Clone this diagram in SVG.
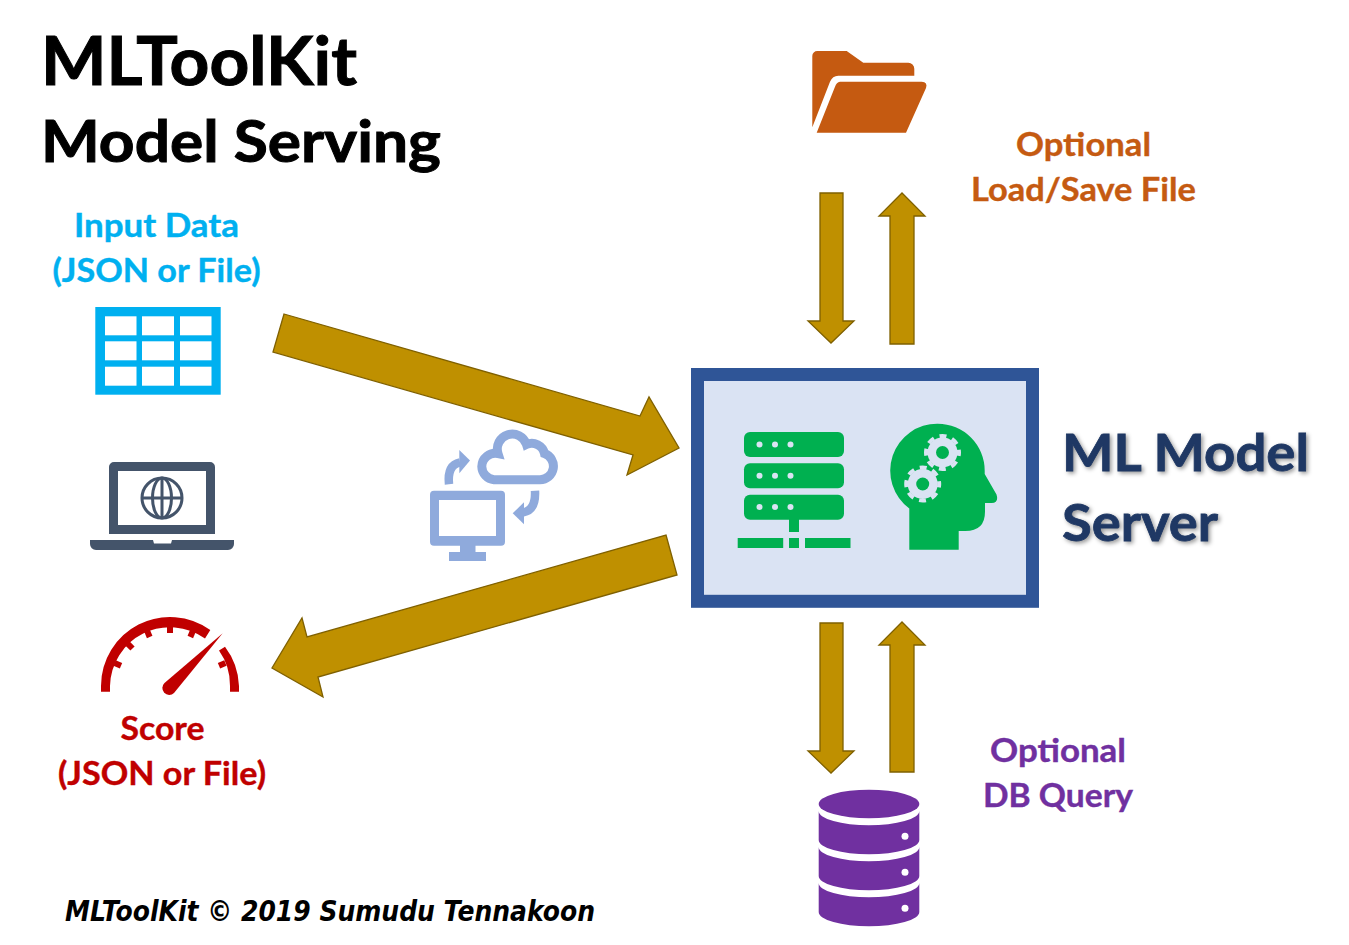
<svg xmlns="http://www.w3.org/2000/svg" width="1349" height="945" viewBox="0 0 1349 945">
<style>
text{font-family:"Lato","Open Sans","Liberation Sans",sans-serif;font-weight:700}
.title{fill:#000;stroke:#000;stroke-width:1}
.lab{font-size:33px;text-anchor:middle;stroke-width:.4}
.srv{font-size:52px;fill:#1f3864;stroke:#1f3864;stroke-width:.8;filter:drop-shadow(2px 2px 2px rgba(0,0,0,.4))}
.foot{font-family:"DejaVu Sans",sans-serif;font-style:italic;font-size:28px;fill:#000}
.arr{fill:#bf9000;stroke:#7f6000;stroke-width:1.3;stroke-linejoin:miter}
.g{fill:#00b050}
.gb{fill:#dae3f3}
.nav{fill:#44546a}
.blue{fill:#8faadc}
.red{fill:#c00000}
.pur{fill:#7030a0}
</style>
<defs>
<g id="gear">
<circle r="15" class="gb"/>
<circle r="16.500" fill="none" stroke="#dae3f3" stroke-width="4" stroke-dasharray="7 5.960" stroke-dashoffset="3.500"/>
<circle r="6.500" class="g"/>
</g>
</defs>
<rect width="1349" height="945" fill="#fff"/>

<g id="connectors">
<polygon class="arr" points="284,314 640,416 649,397 679,448 627,475 633,455 273,352"/>
<polygon class="arr" points="666,535 677,575 318,677 323,697 272,668 302,618 307,637"/>
<polygon class="arr" points="820,193 843,193 843,321 854,321 831,343 808,321 820,321"/>
<polygon class="arr" points="890,344 914,344 914,216 925,216 902,193 879,216 890,216"/>
<polygon class="arr" points="820,623 843,623 843,751 854,751 831,773 808,751 820,751"/>
<polygon class="arr" points="890,772 914,772 914,645 925,645 902,622 879,645 890,645"/>
</g>

<g id="title">
<text class="title" x="41" y="85" font-size="66" textLength="316" lengthAdjust="spacingAndGlyphs">MLToolKit</text>
<text class="title" x="41" y="162" font-size="58" textLength="400" lengthAdjust="spacingAndGlyphs">Model Serving</text>
</g>

<g id="input-data">
<text class="lab" x="156.500" y="237" fill="#00b0f0" stroke="#00b0f0" textLength="165" lengthAdjust="spacingAndGlyphs">Input Data</text>
<text class="lab" x="156.500" y="282" fill="#00b0f0" stroke="#00b0f0" textLength="208" lengthAdjust="spacingAndGlyphs">(JSON or File)</text>
<rect x="95.300" y="307" width="125.400" height="87.700" fill="#00b0f0"/>
<g fill="#fff">
<rect x="105" y="316.300" width="31.500" height="19"/><rect x="142" y="316.300" width="32" height="19"/><rect x="180" y="316.300" width="31.500" height="19"/>
<rect x="105" y="341.300" width="31.500" height="19"/><rect x="142" y="341.300" width="32" height="19"/><rect x="180" y="341.300" width="31.500" height="19"/>
<rect x="105" y="366.700" width="31.500" height="19"/><rect x="142" y="366.700" width="32" height="19"/><rect x="180" y="366.700" width="31.500" height="19"/>
</g>
</g>

<g id="laptop">
<path class="nav" fill-rule="evenodd" d="M109 534V467a5 5 0 0 1 5-5H210a5 5 0 0 1 5 5V534ZM118 471V525H206V471Z"/>
<path class="nav" d="M90 540H153L154 543.500H171L172 540H234V544a6 6 0 0 1-6 6H96a6 6 0 0 1-6-6Z"/>
<g fill="none" stroke="#44546a" stroke-width="3">
<circle cx="162" cy="498" r="20"/>
<ellipse cx="162" cy="498" rx="9.500" ry="20"/>
<path d="M162 478V518M142 498H182"/>
</g>
</g>

<g id="sync">
<path class="blue" fill-rule="evenodd" d="M434 490.700H501a4 4 0 0 1 4 4V541.700a4 4 0 0 1-4 4H475.500V552H486V561H449V552H460V545.700H434a4 4 0 0 1-4-4V494.700a4 4 0 0 1 4-4ZM439 500V536H496V500Z"/>
<path d="M494 479.700H540A13.500 13.500 0 0 0 544.500 453.500A13 13 0 0 0 526.500 444.500A14.500 14.500 0 0 0 498 453.500A13.500 13.500 0 0 0 481.800 466.500A13.500 13.500 0 0 0 494 479.700Z" fill="none" stroke="#8faadc" stroke-width="9"/>
<path d="M449 484.300Q447 465 460 462.300" fill="none" stroke="#8faadc" stroke-width="8.500"/>
<polygon class="blue" points="459.300,450 470,460.500 459.300,473.300"/>
<path d="M535 490.700Q536 510 523.300 512.300" fill="none" stroke="#8faadc" stroke-width="8.500"/>
<polygon class="blue" points="524,502.300 512.700,513.300 524,524.300"/>
</g>

<g id="score">
<path class="red" d="M101 691.700V686A69 69 0 0 1 210.300 630L205 638.500 A60 60 0 0 0 110 686V691.700Z"/>
<path class="red" d="M225 646.700A69 69 0 0 1 239 686V691.700H230V686A60 60 0 0 0 219 650.500Z"/>
<g stroke="#c00000" stroke-width="6" fill="none">
<path d="M170 626V633"/>
<path d="M147 630.600L149.700 637"/>
<path d="M193 630.600L190.300 637"/>
<path d="M127.600 643.600L132.500 648.500"/>
<path d="M114.600 663L121 665.700"/>
<path d="M225.400 663L219 665.700"/>
</g>
<path class="red" d="M222.700 633.300L174 693A6.500 6.500 0 0 1 164.500 683Z"/>
<text class="lab" x="162.500" y="740" fill="#c00000" stroke="#c00000" textLength="84" lengthAdjust="spacingAndGlyphs">Score</text>
<text class="lab" x="162" y="785" fill="#c00000" stroke="#c00000" textLength="208" lengthAdjust="spacingAndGlyphs">(JSON or File)</text>
</g>

<g id="ml-model-server">
<rect x="697.500" y="374.500" width="335" height="226.800" class="gb" stroke="#2f5597" stroke-width="13"/>
<g class="g">
<rect x="744" y="432" width="100" height="25" rx="6"/>
<rect x="744" y="463.300" width="100" height="25" rx="6"/>
<rect x="744" y="494.700" width="100" height="25" rx="6"/>
<rect x="789" y="519" width="10" height="13"/>
<rect x="737.700" y="538" width="45.500" height="10"/>
<rect x="789" y="538" width="10" height="10"/>
<rect x="805" y="538" width="45.500" height="10"/>
</g>
<g class="gb">
<circle cx="759.500" cy="444.500" r="3"/><circle cx="775" cy="444.500" r="3"/><circle cx="790.500" cy="444.500" r="3"/>
<circle cx="759.500" cy="475.800" r="3"/><circle cx="775" cy="475.800" r="3"/><circle cx="790.500" cy="475.800" r="3"/>
<circle cx="759.500" cy="507" r="3"/><circle cx="775" cy="507" r="3"/><circle cx="790.500" cy="507" r="3"/>
</g>
<path class="g" d="M909.300 549.700V508.500A47 47 0 0 1 937.700 423.700A47 47 0 0 1 984.700 470.700V474L996.500 494.500Q999 503 991.700 503H985V511.700Q985 531 965.300 531H958.700V549.700Z"/>
<use href="#gear" x="942.500" y="452.500"/>
<use href="#gear" x="922.700" y="484"/>
<text class="srv" x="1062" y="471" textLength="247" lengthAdjust="spacingAndGlyphs">ML Model</text>
<text class="srv" x="1062" y="541" textLength="156" lengthAdjust="spacingAndGlyphs">Server</text>
</g>

<g id="file-store">
<path fill="#c55a11" d="M812.300 56a5 5 0 0 1 5-5H846.700L863.300 62.700H908.300a6 6 0 0 1 6 6V75.700H838.300Q832.500 75.700 830 81.700L812.300 127.300Z"/>
<path fill="#c55a11" d="M840 81.700H921.700Q928 82 926 88L906 132.700H816.700L835 86.700Q836.500 82 840 81.700Z"/>
<text class="lab" x="1083.500" y="156" fill="#c55a11" stroke="#c55a11" textLength="135" lengthAdjust="spacingAndGlyphs">Optional</text>
<text class="lab" x="1083.500" y="201" fill="#c55a11" stroke="#c55a11" textLength="225" lengthAdjust="spacingAndGlyphs">Load/Save File</text>
</g>

<g id="database">
<ellipse class="pur" cx="869" cy="804" rx="50.300" ry="14.300"/>
<path class="pur" d="M818.700 811A50.300 14.300 0 0 0 919.300 811V840A50.300 14.300 0 0 1 818.700 840Z"/>
<path class="pur" d="M818.700 847A50.300 14.300 0 0 0 919.300 847V876A50.300 14.300 0 0 1 818.700 876Z"/>
<path class="pur" d="M818.700 883A50.300 14.300 0 0 0 919.300 883V912A50.300 14.300 0 0 1 818.700 912Z"/>
<circle cx="905" cy="836.300" r="3.500" fill="#fff"/>
<circle cx="905" cy="872.300" r="3.500" fill="#fff"/>
<circle cx="905" cy="908.300" r="3.500" fill="#fff"/>
<text class="lab" x="1058" y="762" fill="#7030a0" stroke="#7030a0" textLength="136" lengthAdjust="spacingAndGlyphs">Optional</text>
<text class="lab" x="1058" y="807" fill="#7030a0" stroke="#7030a0" textLength="150" lengthAdjust="spacingAndGlyphs">DB Query</text>
</g>

<g id="footer">
<text class="foot" x="65" y="921" textLength="530" lengthAdjust="spacingAndGlyphs">MLToolKit © 2019 Sumudu Tennakoon</text>
</g>
</svg>
